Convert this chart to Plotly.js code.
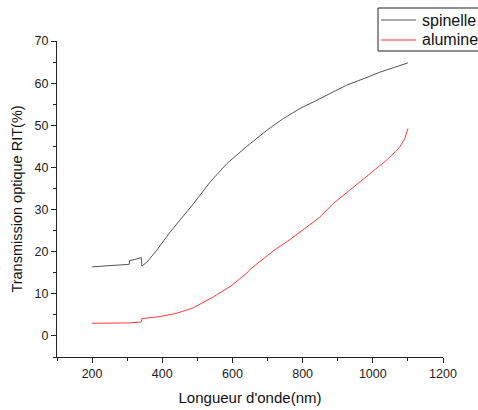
<!DOCTYPE html>
<html>
<head>
<meta charset="utf-8">
<script src="https://cdn.plot.ly/plotly-3.0.1.min.js"></script>
<style>html,body{margin:0;padding:0;background:#fff;}#chart{width:478px;height:410px;}</style>
</head>
<body>
<div id="chart"></div>
<script>
var spinelleX = [200, 250, 300, 306, 307, 320, 340, 342, 355, 370, 385, 420, 451, 489, 537, 584, 641, 698, 745, 793, 830, 880, 925, 975, 1020, 1060, 1100];
var spinelleY = [16.4, 16.6, 16.8, 17.0, 17.9, 18.1, 18.6, 16.6, 17.4, 18.8, 20.4, 24.4, 27.5, 31.4, 36.6, 40.9, 45.0, 48.8, 51.6, 54.0, 55.5, 57.6, 59.5, 61.1, 62.6, 63.7, 64.8];
var alumineX = [200, 250, 300, 307, 340, 342, 394, 442, 489, 546, 593, 641, 650, 717, 764, 793, 845, 887, 963, 1039, 1065, 1077, 1091, 1100];
var alumineY = [3.0, 3.0, 3.0, 3.1, 3.3, 4.1, 4.6, 5.4, 6.7, 9.3, 11.7, 14.9, 15.8, 20.2, 22.9, 24.7, 27.9, 31.4, 36.6, 41.7, 43.8, 44.9, 46.8, 49.2];
var seriesNames = ['spinelle', 'alumine'];
var seriesColors = ['#555555', '#ff3a3a'];
var xTicks = [200, 400, 600, 800, 1000, 1200];
var yTicks = [0, 10, 20, 30, 40, 50, 60, 70];

var W = 478, H = 410;
var M = {l: 57, r: 35, t: 41, b: 53};
var pw = W - M.l - M.r, ph = H - M.t - M.b;
function px(x) { return (x - M.l) / pw; }
function py(y) { return (H - M.b - y) / ph; }

var font = {family: 'Liberation Sans, Arial, sans-serif', color: '#222'};
var traces = [
  {x: spinelleX, y: spinelleY, name: seriesNames[0], type: 'scatter', mode: 'lines', line: {color: seriesColors[0], width: 1}},
  {x: alumineX, y: alumineY, name: seriesNames[1], type: 'scatter', mode: 'lines', line: {color: seriesColors[1], width: 1}}
];

// hand-built legend box (clipped at the right edge like the original)
var shapes = [
  {type: 'rect', xref: 'paper', yref: 'paper', x0: px(378), x1: px(490), y0: py(51), y1: py(8),
   line: {color: '#222', width: 1}, fillcolor: 'rgba(255,255,255,1)', layer: 'above'}
];
var annotations = [];
var rowY = [20, 40];
for (var i = 0; i < seriesNames.length; i++) {
  shapes.push({type: 'line', xref: 'paper', yref: 'paper', x0: px(381), x1: px(416), y0: py(rowY[i]), y1: py(rowY[i]),
    line: {color: seriesColors[i], width: 1}, layer: 'above'});
  annotations.push({xref: 'paper', yref: 'paper', x: px(420), y: py(rowY[i]), xanchor: 'left', yanchor: 'middle',
    text: seriesNames[i], showarrow: false, font: {family: font.family, size: 16, color: '#111'}});
}

var axisCommon = {
  showgrid: false, zeroline: false, showline: true, linecolor: '#222', linewidth: 1,
  ticks: 'outside', ticklen: 5, tickcolor: '#222', tickwidth: 1,
  tickfont: {family: font.family, size: 12.5, color: '#222'}
};
var layout = {
  width: W, height: H,
  margin: {l: M.l, r: M.r, t: M.t, b: M.b, autoexpand: false},
  paper_bgcolor: '#fff', plot_bgcolor: '#fff',
  font: font,
  showlegend: false,
  shapes: shapes,
  annotations: annotations,
  xaxis: Object.assign({}, axisCommon, {
    range: [100, 1200], tickvals: xTicks,
    minor: {dtick: 100, tick0: 100, ticks: 'outside', ticklen: 3, tickcolor: '#222', showgrid: false},
    title: {text: "Longueur d'onde(nm)", font: {family: font.family, size: 15, color: '#111'}, standoff: 12}
  }),
  yaxis: Object.assign({}, axisCommon, {
    range: [-5, 70], tickvals: yTicks,
    minor: {dtick: 5, tick0: 0, ticks: 'outside', ticklen: 3, tickcolor: '#222', showgrid: false},
    title: {text: 'Transmission optique RIT(%)', font: {family: font.family, size: 14.5, color: '#111'}, standoff: 8}
  })
};
Plotly.newPlot('chart', traces, layout, {displayModeBar: false, staticPlot: true});
</script>
</body>
</html>
